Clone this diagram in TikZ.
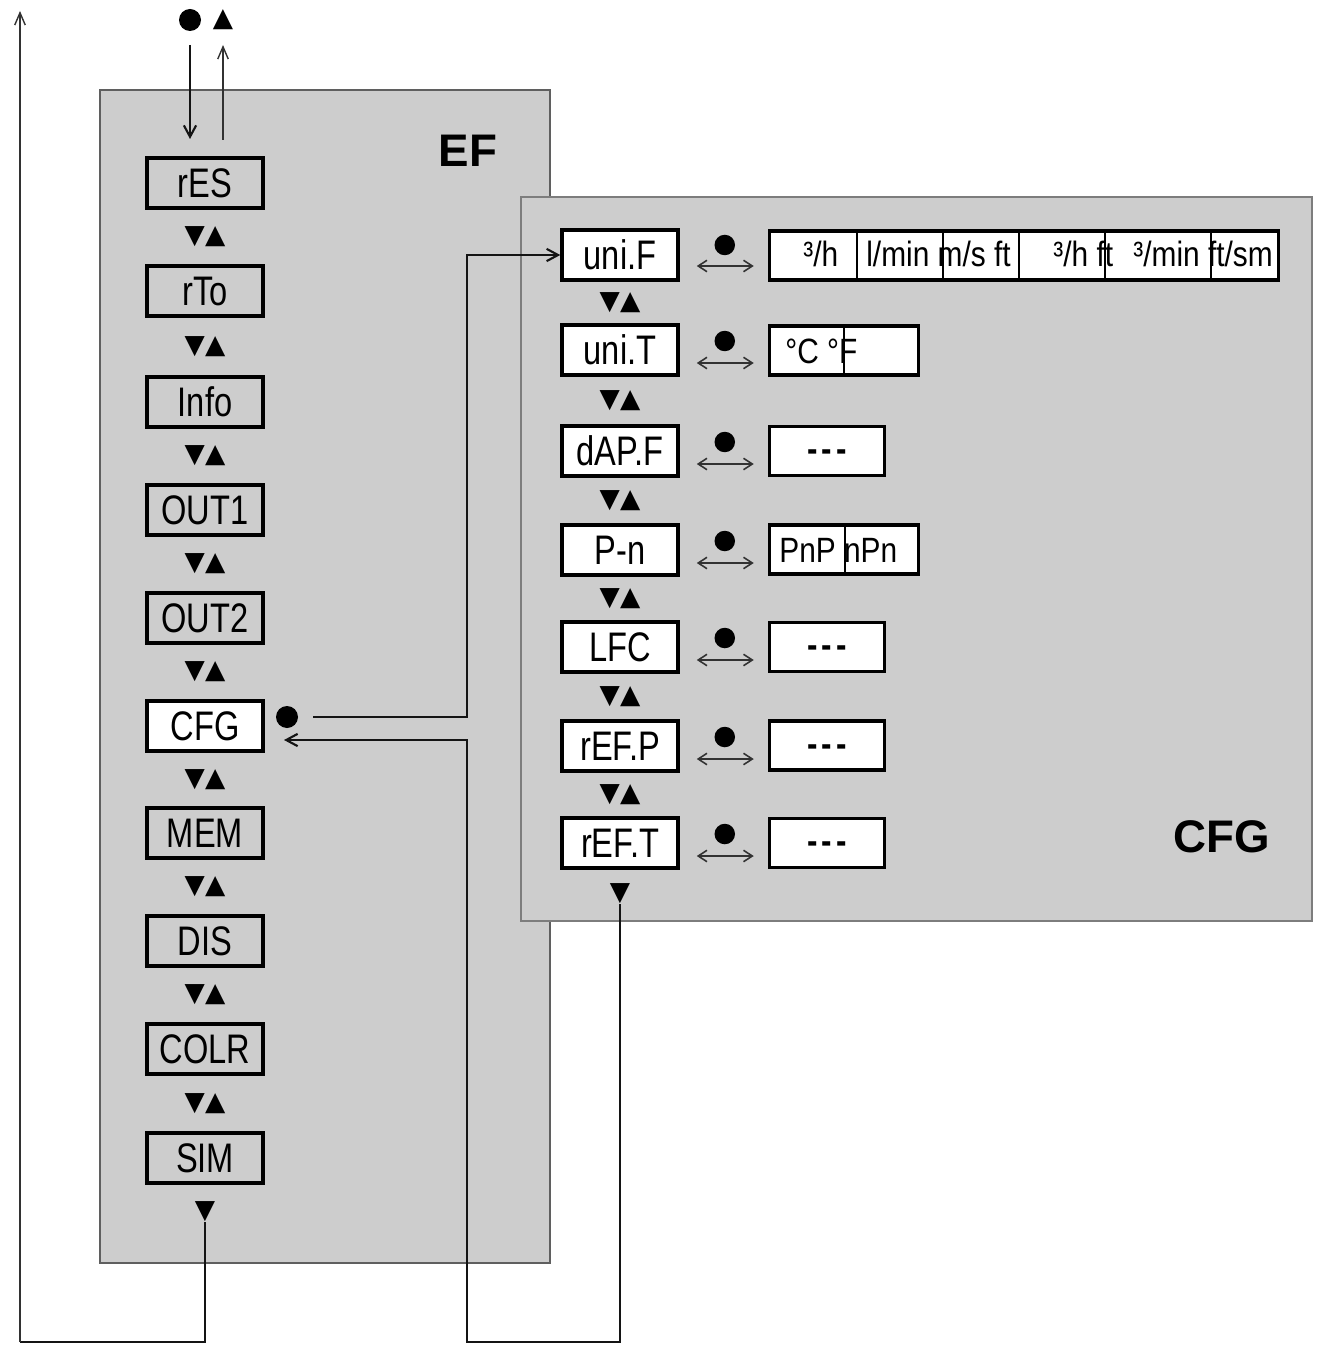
\documentclass[tikz,border=0pt]{standalone}
\usepackage{fontspec}
\setmainfont{Liberation Sans}
\newfontfamily\menufont[FakeStretch=0.79]{Liberation Sans}
\newfontfamily\valfont[FakeStretch=0.85]{Liberation Sans}
\newfontfamily\symfont{DejaVu Sans}
\usepackage{tikz}
\usetikzlibrary{arrows.meta, positioning, calc}
\definecolor{panelgray}{RGB}{205,205,205}
\definecolor{efedge}{RGB}{95,95,95}
\definecolor{cfgedge}{RGB}{125,125,125}
\definecolor{mydark}{RGB}{20,20,20}
\definecolor{mygray}{RGB}{50,50,50}
\tikzset{
  menubox/.style={rectangle, draw=black, line width=2pt,
    minimum width=2.32cm, minimum height=1.0cm, inner sep=0pt,
    font=\menufont\fontsize{23.5}{23.5}\selectfont, text height=16.8pt, text depth=0pt},
  cfgbox/.style={menubox, fill=white},
  valbox/.style={rectangle, draw=black, fill=white, line width=1.9pt,
    minimum height=0.98cm, inner sep=0pt, anchor=west,
    font=\valfont\fontsize{21}{21}\selectfont\bfseries, text height=12.5pt, text depth=0pt},
  valtext/.style={anchor=base west, inner sep=0pt,
    font=\valfont\fontsize{20}{20}\selectfont},
  updown/.style={inner sep=0pt, font=\symfont\fontsize{15}{15}\selectfont},
  keydot/.style={circle, fill=black, inner sep=0pt, minimum size=0.41cm},
  panel/.style={rectangle, fill=panelgray, line width=1.1pt},
  paneltitle/.style={font=\fontsize{26}{26}\selectfont\bfseries},
  arrow/.style={-{Straight Barb[length=6.5pt,width=7pt]}, line width=1.2pt, color=mydark},
  thinarrow/.style={-{Straight Barb[length=7pt,width=6pt]}, line width=0.8pt, color=mygray},
  swaparrow/.style={{Straight Barb[length=5pt,width=6.5pt]}-{Straight Barb[length=5pt,width=6.5pt]},
    line width=0.9pt, color=mygray},
  divider/.style={line width=0.9pt, color=black}
}
\newcommand{\nodash}{-\kern2.5pt-\kern2.5pt-}

\begin{document}
\begin{tikzpicture}[x=0.02cm, y=-0.02cm]
  \useasboundingbox (0,0) rectangle (1320,1354);

  % Panels
  \draw[panel, draw=efedge] (100,90) rectangle (550,1263);
  \draw[panel, draw=cfgedge] (521,197) rectangle (1312,921);
  \node[paneltitle] (eftitle) at (468,151) {EF};
  \node[paneltitle] (cfgtitle) at (1222,837) {CFG};

  % Keys on top
  \node[keydot, minimum size=0.44cm] (okdot) at (190,20) {};
  \node[updown] (uptri) at (223,20) {▲};
  \coordinate (dn_top) at (190,45);
  \coordinate (dn_end) at (190,139);
  \coordinate (up_start) at (223,140);
  \coordinate (up_top) at (223,45);
  \draw[arrow] (dn_top) -- (dn_end);
  \draw[thinarrow] (up_start) -- (up_top);

  % EF menu
  \node[menubox] (res) at (205,183) {rES};
  \node[menubox] (rto) at (205,291) {rTo};
  \node[menubox] (info) at (205,402) {Info};
  \node[menubox] (out1) at (205,510) {OUT1};
  \node[menubox] (out2) at (205,618) {OUT2};
  \node[cfgbox] (cfg) at (205,726) {CFG};
  \node[menubox] (mem) at (205,833) {MEM};
  \node[menubox] (dis) at (205,941) {DIS};
  \node[menubox] (colr) at (205,1049) {COLR};
  \node[menubox] (sim) at (205,1158) {SIM};

  \node[updown] (ud1) at ($(res)!0.5!(rto)$) {▼▲};
  \node[updown] (ud2) at ($(rto)!0.5!(info)$) {▼▲};
  \node[updown] (ud3) at ($(info)!0.5!(out1)$) {▼▲};
  \node[updown] (ud4) at ($(out1)!0.5!(out2)$) {▼▲};
  \node[updown] (ud5) at ($(out2)!0.5!(cfg)$) {▼▲};
  \node[updown] (ud6) at ($(cfg)!0.5!(mem)$) {▼▲};
  \node[updown] (ud7) at ($(mem)!0.5!(dis)$) {▼▲};
  \node[updown] (ud8) at ($(dis)!0.5!(colr)$) {▼▲};
  \node[updown] (ud9) at ($(colr)!0.5!(sim)$) {▼▲};
  \node[updown] (simdn) at (205,1212) {▼};

  % CFG menu
  \node[cfgbox] (unif) at (620,255) {uni.F};
  \node[cfgbox] (unit) at (620,350) {uni.T};
  \node[cfgbox] (dapf) at (620,451) {dAP.F};
  \node[cfgbox] (pn) at (620,550) {P-n};
  \node[cfgbox] (lfc) at (620,647) {LFC};
  \node[cfgbox] (refp) at (620,746) {rEF.P};
  \node[cfgbox] (reft) at (620,843) {rEF.T};

  \node[updown] (uc1) at ($(unif)!0.5!(unit)$) {▼▲};
  \node[updown] (uc2) at ($(unit)!0.5!(dapf)$) {▼▲};
  \node[updown] (uc3) at ($(dapf)!0.5!(pn)$) {▼▲};
  \node[updown] (uc4) at ($(pn)!0.5!(lfc)$) {▼▲};
  \node[updown] (uc5) at ($(lfc)!0.5!(refp)$) {▼▲};
  \node[updown] (uc6) at ($(refp)!0.5!(reft)$) {▼▲};
  \node[updown] (refdn) at (620,894) {▼};

  % Keys and swap arrows
  \node[keydot] (kunif) at ($(unif.east)+(45,-10)$) {};
  \node[keydot] (kunit) at ($(unit.east)+(45,-9)$) {};
  \node[keydot] (kdapf) at ($(dapf.east)+(45,-9)$) {};
  \node[keydot] (kpn) at ($(pn.east)+(45,-9)$) {};
  \node[keydot] (klfc) at ($(lfc.east)+(45,-9)$) {};
  \node[keydot] (krefp) at ($(refp.east)+(45,-9)$) {};
  \node[keydot] (kreft) at ($(reft.east)+(45,-9)$) {};
  \draw[swaparrow] ($(unif.east)+(17,11)$) -- ($(unif.east)+(74,11)$);
  \draw[swaparrow] ($(unit.east)+(17,13)$) -- ($(unit.east)+(74,13)$);
  \draw[swaparrow] ($(dapf.east)+(17,13)$) -- ($(dapf.east)+(74,13)$);
  \draw[swaparrow] ($(pn.east)+(17,13)$) -- ($(pn.east)+(74,13)$);
  \draw[swaparrow] ($(lfc.east)+(17,13)$) -- ($(lfc.east)+(74,13)$);
  \draw[swaparrow] ($(refp.east)+(17,13)$) -- ($(refp.east)+(74,13)$);
  \draw[swaparrow] ($(reft.east)+(17,13)$) -- ($(reft.east)+(74,13)$);

  % Value boxes
  \node[valbox, minimum width=10.18cm] (unifval) at (768,255.5) {};
  \node[valbox, minimum width=2.98cm] (unitval) at (768,350.5) {};
  \node[valbox, minimum width=2.3cm] (dapfval) at (768,451) {\nodash};
  \node[valbox, minimum width=2.98cm] (pnval) at (768,549.5) {};
  \node[valbox, minimum width=2.3cm] (lfcval) at (768,647) {\nodash};
  \node[valbox, minimum width=2.3cm] (refpval) at (768,745.5) {\nodash};
  \node[valbox, minimum width=2.3cm] (reftval) at (768,843) {\nodash};

  \draw[divider] (857,232) -- (857,279);
  \draw[divider] (943,232) -- (943,279);
  \draw[divider] (1019,232) -- (1019,279);
  \draw[divider] (1105,232) -- (1105,279);
  \draw[divider] (1211,232) -- (1211,279);
  \draw[divider] (844,328) -- (844,373);
  \draw[divider] (845,525) -- (845,574);

  \node[valtext] (fu1) at (803,267) {³/h};
  \node[valtext] (fu2) at (866,267) {l/min m/s ft};
  \node[valtext] (fu3) at (1053,267) {³/h ft};
  \node[valtext] (fu4) at (1133,267) {³/min ft/sm};
  \node[valtext] (tu1) at (785,363) {°C °F};
  \node[valtext] (pn1) at (779,562) {PnP nPn};

  % Connections
  \node[keydot, minimum size=0.44cm] (cfgdot) at (287,717) {};
  \coordinate (jn_up) at (467,717);
  \coordinate (back_bl) at (467,1342);
  \coordinate (cfg_in) at (284,740);
  \coordinate (ret_bl) at (20,1342);
  \coordinate (ret_top) at (20,11);

  \draw[arrow, shorten <=0.3cm] (cfgdot.east) -- (jn_up) |- (unif.west);
  \draw[arrow] (refdn.south) |- (back_bl) |- (cfg_in);
  \draw[line width=1.1pt, color=mydark] (simdn.south) |- (ret_bl);
  \draw[thinarrow] (ret_bl) -- (ret_top);
\end{tikzpicture}
\end{document}
